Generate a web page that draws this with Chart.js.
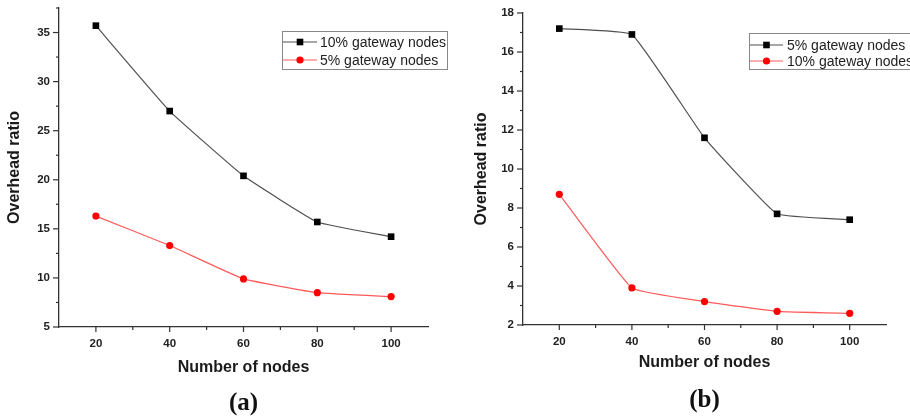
<!DOCTYPE html>
<html>
<head>
<meta charset="utf-8">
<script src="https://cdn.jsdelivr.net/npm/chart.js@4/dist/chart.umd.min.js"></script>
<style>
  html, body { margin: 0; padding: 0; background: #fff; }
  #wrap { position: relative; width: 910px; height: 416px; overflow: hidden; }
  .panel { position: absolute; top: 0; width: 455px; height: 416px; }
  #pa { left: 0; }
  #pb { left: 455px; }
</style>
</head>
<body>
<div id="wrap">
  <div class="panel" id="pa"><canvas id="ca" width="455" height="416"></canvas></div>
  <div class="panel" id="pb"><canvas id="cb" width="455" height="416"></canvas></div>
</div>
<script>
// ---- data ----
const categories = [20, 40, 60, 80, 100];

const labelA1 = '10% gateway nodes';
const labelA2 = '5% gateway nodes';
const seriesA1 = [35.7, 27.0, 20.4, 15.7, 14.2];
const seriesA2 = [16.3, 13.3, 9.9, 8.5, 8.1];

const labelB1 = '5% gateway nodes';
const labelB2 = '10% gateway nodes';
const seriesB1 = [17.2, 16.9, 11.6, 7.7, 7.4];
const seriesB2 = [8.7, 3.9, 3.2, 2.7, 2.6];

const xMajorTicks = [20, 40, 60, 80, 100];
const xMinorTicks = [30, 50, 70, 90];
const yMajorTicksA = [5, 10, 15, 20, 25, 30, 35];
const yMinorTicksA = [7.5, 12.5, 17.5, 22.5, 27.5, 32.5, 37.5];
const yMajorTicksB = [2, 4, 6, 8, 10, 12, 14, 16, 18];
const yMinorTicksB = [3, 5, 7, 9, 11, 13, 15, 17];

const xTitle = 'Number of nodes';
const yTitle = 'Overhead ratio';

// ---- rendering ----
Chart.defaults.font.family = '"Liberation Sans", Arial, sans-serif';
Chart.defaults.color = '#222';
Chart.defaults.animation = false;

const toPts = (ys) => categories.map((c, i) => ({ x: c, y: ys[i] }));

const tickPlugin = {
  id: 'axisTicks',
  afterDraw(chart, args, o) {
    const ctx = chart.ctx, xs = chart.scales.x, ys = chart.scales.y;
    const ax = chart.chartArea.left, ay = chart.chartArea.bottom;
    ctx.save();
    ctx.strokeStyle = '#333';
    ctx.lineWidth = 1.2;
    const seg = (x1, y1, x2, y2) => { ctx.beginPath(); ctx.moveTo(x1, y1); ctx.lineTo(x2, y2); ctx.stroke(); };
    o.yMajor.forEach(v => { const p = ys.getPixelForValue(v); seg(ax - 6, p, ax, p); });
    o.yMinor.forEach(v => { const p = ys.getPixelForValue(v); seg(ax - 3, p, ax, p); });
    o.xMajor.forEach(v => { const p = xs.getPixelForValue(v); seg(p, ay, p, ay + 5); });
    o.xMinor.forEach(v => { const p = xs.getPixelForValue(v); seg(p, ay, p, ay + 3); });
    ctx.restore();
  }
};

const legendPlugin = {
  id: 'boxLegend',
  afterDraw(chart, args, o) {
    const ctx = chart.ctx;
    ctx.save();
    ctx.fillStyle = '#fff';
    ctx.fillRect(o.x, o.y, o.w, o.h);
    ctx.strokeStyle = '#888';
    ctx.lineWidth = 1;
    ctx.strokeRect(o.x + 0.5, o.y + 0.5, o.w, o.h);
    chart.data.datasets.forEach((ds, i) => {
      const ry = o.rows[i];
      ctx.strokeStyle = ds.borderColor;
      ctx.lineWidth = 1.2;
      ctx.beginPath(); ctx.moveTo(o.lx0, ry); ctx.lineTo(o.lx1, ry); ctx.stroke();
      const mx = (o.lx0 + o.lx1) / 2;
      ctx.fillStyle = ds.pointBackgroundColor;
      if (ds.pointStyle === 'rect') {
        ctx.fillRect(mx - 3.3, ry - 3.3, 6.6, 6.6);
      } else {
        ctx.beginPath(); ctx.arc(mx, ry, 3.6, 0, Math.PI * 2); ctx.fill();
      }
      ctx.fillStyle = '#222';
      ctx.font = '14px "Liberation Sans", Arial, sans-serif';
      ctx.textBaseline = 'middle';
      ctx.textAlign = 'left';
      ctx.fillText(ds.label, o.tx, ry + 1);
    });
    ctx.restore();
  }
};

function makeChart(id, cfg) {
  const tickFont = { size: 11.5, weight: 'bold' };
  return new Chart(document.getElementById(id), {
    type: 'line',
    data: {
      datasets: [
        {
          label: cfg.l1, data: toPts(cfg.s1),
          borderColor: '#505050', borderWidth: 1.2, tension: 0.1,
          pointStyle: 'rect', pointRadius: 4.7, pointBackgroundColor: '#000', pointBorderColor: '#000', pointBorderWidth: 0
        },
        {
          label: cfg.l2, data: toPts(cfg.s2),
          borderColor: '#ff5a5a', borderWidth: 1.2, tension: 0.1,
          pointStyle: 'circle', pointRadius: 3.6, pointBackgroundColor: '#ff0000', pointBorderColor: '#ff0000', pointBorderWidth: 0
        }
      ]
    },
    options: {
      responsive: false,
      animation: false,
      layout: { padding: { left: 0, top: cfg.top, right: cfg.right, bottom: 0 } },
      scales: {
        x: {
          type: 'linear', min: 10, max: 110,
          afterBuildTicks: (s) => { s.ticks = xMajorTicks.map(v => ({ value: v })); },
          afterFit: (s) => { s.height = cfg.xh; s.paddingLeft = 0; s.paddingRight = 0; },
          grid: { display: false, drawTicks: false },
          border: { display: true, color: '#333', width: 1.3 },
          ticks: { padding: 10, autoSkip: false, maxRotation: 0, font: tickFont, color: '#222' },
          title: { display: true, text: xTitle, font: { size: 16, weight: 'bold' }, color: '#1a1a1a', padding: { top: 0, bottom: cfg.xtp } }
        },
        y: {
          type: 'linear', min: cfg.ymin, max: cfg.ymax,
          afterBuildTicks: (s) => { s.ticks = cfg.yMajor.map(v => ({ value: v })); },
          afterFit: (s) => { s.width = cfg.yw; s.paddingTop = 0; s.paddingBottom = 0; },
          grid: { display: false, drawTicks: false },
          border: { display: true, color: '#333', width: 1.3 },
          ticks: { padding: 9, autoSkip: false, font: tickFont, color: '#222' },
          title: { display: true, text: yTitle, font: { size: 16, weight: 'bold' }, color: '#1a1a1a', padding: { top: cfg.ytp, bottom: 0 } }
        }
      },
      plugins: {
        legend: { display: false },
        tooltip: { enabled: false },
        title: {
          display: true, position: 'bottom', fullSize: false, text: cfg.panel,
          font: { family: '"Liberation Serif", "Times New Roman", serif', size: 25, weight: 'bold', lineHeight: 1 },
          color: '#111', padding: { top: 0, bottom: cfg.pb }
        },
        axisTicks: { xMajor: xMajorTicks, xMinor: xMinorTicks, yMajor: cfg.yMajor, yMinor: cfg.yMinor },
        boxLegend: cfg.legend
      }
    },
    plugins: [tickPlugin, legendPlugin]
  });
}

makeChart('ca', {
  l1: labelA1, l2: labelA2, s1: seriesA1, s2: seriesA2,
  ymin: 5, ymax: 37.5, yMajor: yMajorTicksA, yMinor: yMinorTicksA,
  top: 8, right: 27, yw: 59, xh: 64, xtp: 13.4, ytp: 5.4, pb: 0, panel: '(a)',
  legend: { x: 282, y: 31, w: 165, h: 38, rows: [42, 60], lx0: 283, lx1: 317, tx: 320 }
});

makeChart('cb', {
  l1: labelB1, l2: labelB2, s1: seriesB1, s2: seriesB2,
  ymin: 2, ymax: 18, yMajor: yMajorTicksB, yMinor: yMinorTicksB,
  top: 13, right: 24, yw: 68, xh: 63, xtp: 15.4, ytp: 17.4, pb: 3, panel: '(b)',
  legend: { x: 294, y: 33, w: 200, h: 36, rows: [45, 61], lx0: 295, lx1: 328, tx: 332 }
});
</script>
</body>
</html>
